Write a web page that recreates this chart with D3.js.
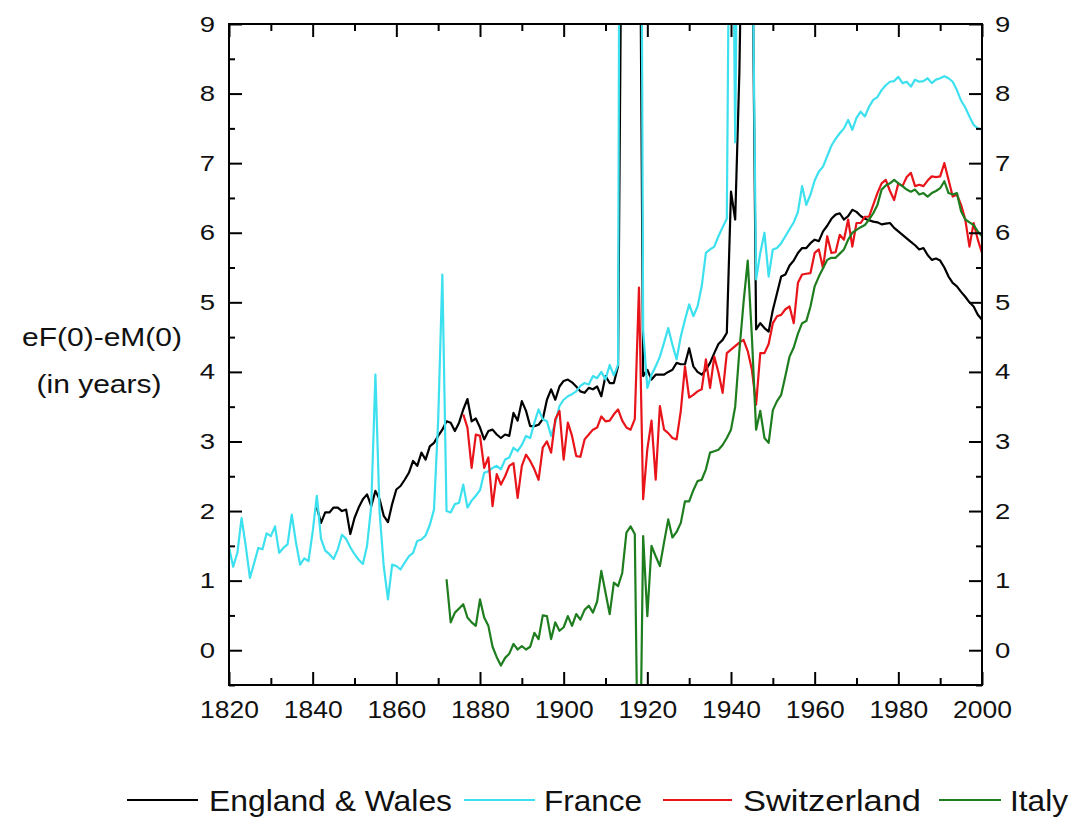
<!DOCTYPE html>
<html>
<head>
<meta charset="utf-8">
<title>eF(0)-eM(0)</title>
<script src="https://d3js.org/d3.v7.min.js"></script>
<style>
  body { margin: 0; background: #fff; }
  svg { font-family: Arial, "Liberation Sans", sans-serif; }
  .axis path { display: none; }
  .axis line { stroke: #000; stroke-width: 2px; }
  .axis text { fill: #111; }
</style>
</head>
<body>
<div id="chart"></div>
<script>
// ---- data (one value per year) ----
var ewStart = 1841;
var ewValues = [2.05, 1.83, 1.98, 1.98, 2.05, 2.05, 2.00, 2.02, 1.67, 1.90,
  2.05, 2.17, 2.24, 2.07, 2.29, 2.17, 1.93, 1.84, 2.10, 2.31,
  2.36, 2.45, 2.55, 2.72, 2.65, 2.84, 2.74, 2.93, 2.98, 3.08,
  3.17, 3.29, 3.27, 3.15, 3.27, 3.46, 3.61, 3.29, 3.33, 3.20,
  3.03, 3.15, 3.17, 3.10, 3.05, 3.10, 3.08, 3.41, 3.30, 3.58,
  3.44, 3.22, 3.22, 3.24, 3.32, 3.60, 3.75, 3.60, 3.79, 3.87,
  3.89, 3.85, 3.79, 3.72, 3.70, 3.77, 3.75, 3.79, 3.65, 3.94,
  3.84, 3.84, 4.08, 12, 14, 14, 14, 13, 3.94, 4.03,
  3.89, 3.96, 3.96, 3.96, 4.00, 4.03, 4.13, 4.11, 4.11, 4.34,
  4.08, 4.00, 3.96, 4.03, 4.13, 4.27, 4.40, 4.46, 4.56, 6.59,
  6.19, 8.3, 12, 12, 11, 4.61, 4.70, 4.63, 4.58, 4.89,
  5.13, 5.37, 5.40, 5.53, 5.60, 5.71, 5.78, 5.78, 5.85, 5.90,
  5.88, 6.02, 6.10, 6.20, 6.26, 6.28, 6.19, 6.24, 6.33, 6.30,
  6.24, 6.20, 6.18, 6.16, 6.15, 6.12, 6.13, 6.14, 6.07, 6.02,
  5.97, 5.92, 5.87, 5.82, 5.76, 5.78, 5.68, 5.61, 5.63, 5.60,
  5.50, 5.37, 5.28, 5.23, 5.15, 5.08, 5.00, 4.94, 4.82, 4.75];

var frStart = 1820;
var frValues = [1.48, 1.20, 1.40, 1.90, 1.50, 1.04, 1.25, 1.47, 1.45, 1.68,
  1.64, 1.78, 1.40, 1.47, 1.52, 1.95, 1.55, 1.23, 1.32, 1.28,
  1.70, 2.22, 1.60, 1.43, 1.38, 1.31, 1.45, 1.66, 1.60, 1.48,
  1.38, 1.30, 1.24, 1.50, 2.07, 3.96, 1.98, 1.20, 0.73, 1.23,
  1.21, 1.16, 1.26, 1.35, 1.40, 1.57, 1.59, 1.65, 1.80, 2.02,
  3.30, 5.40, 2.00, 1.98, 2.10, 2.12, 2.38, 2.05, 2.15, 2.22,
  2.30, 2.55, 2.57, 2.62, 2.65, 2.60, 2.74, 2.77, 2.91, 2.86,
  2.95, 3.08, 3.05, 3.27, 3.46, 3.32, 3.29, 3.08, 3.27, 3.51,
  3.60, 3.65, 3.68, 3.72, 3.80, 3.84, 3.82, 3.94, 3.91, 4.00,
  3.89, 4.10, 3.95, 4.10, 25, 25, 25, 25, 20, 4.60,
  3.77, 3.96, 4.08, 4.22, 4.42, 4.63, 4.39, 4.18, 4.51, 4.75,
  4.97, 4.80, 4.94, 5.23, 5.71, 5.76, 5.80, 5.95, 6.08, 6.20,
  14, 7.30, 14, 14, 14, 11, 5.33, 5.71, 6.00, 5.37,
  5.76, 5.78, 5.85, 5.95, 6.05, 6.15, 6.30, 6.67, 6.40, 6.55,
  6.75, 6.88, 6.95, 7.10, 7.25, 7.35, 7.43, 7.50, 7.62, 7.48,
  7.65, 7.74, 7.67, 7.81, 7.91, 7.95, 8.05, 8.12, 8.17, 8.18,
  8.24, 8.15, 8.17, 8.10, 8.20, 8.17, 8.18, 8.22, 8.15, 8.20,
  8.22, 8.25, 8.22, 8.17, 8.05, 7.90, 7.80, 7.67, 7.55, 7.50,
  7.48];

var chStart = 1876;
var chValues = [3.39, 3.20, 2.62, 3.10, 3.08, 2.62, 2.77, 2.07, 2.53, 2.38,
  2.50, 2.65, 2.69, 2.19, 2.65, 2.81, 2.72, 2.60, 2.45, 2.91,
  3.00, 2.84, 3.32, 3.44, 2.74, 3.27, 3.08, 2.79, 2.78, 3.03,
  3.10, 3.17, 3.20, 3.36, 3.29, 3.30, 3.39, 3.46, 3.30, 3.20,
  3.17, 3.32, 5.21, 2.17, 2.89, 3.30, 2.45, 3.51, 3.17, 3.12,
  3.05, 3.03, 3.44, 4.08, 3.63, 3.67, 3.72, 3.75, 4.18, 3.77,
  4.22, 3.99, 3.70, 4.27, 4.32, 4.37, 4.42, 4.46, 4.30, 4.03,
  3.53, 4.27, 4.27, 4.40, 4.70, 4.80, 4.82, 4.90, 4.94, 4.70,
  5.28, 5.40, 5.41, 5.42, 5.71, 5.76, 5.49, 5.95, 5.71, 5.72,
  5.97, 5.90, 6.19, 5.80, 6.14, 6.14, 6.23, 6.23, 6.40, 6.57,
  6.71, 6.76, 6.60, 6.47, 6.71, 6.67, 6.80, 6.86, 6.67, 6.69,
  6.67, 6.75, 6.81, 6.80, 6.81, 7.00, 6.76, 6.52, 6.55, 6.40,
  6.19, 5.80, 6.14, 5.90, 5.71];

var itStart = 1872;
var itValues = [1.02, 0.40, 0.54, 0.60, 0.66, 0.47, 0.40, 0.35, 0.73, 0.47,
  0.35, 0.05, -0.10, -0.22, -0.11, -0.05, 0.09, 0.01, 0.06, 0.01,
  0.05, 0.25, 0.16, 0.50, 0.49, 0.16, 0.40, 0.28, 0.33, 0.49,
  0.35, 0.52, 0.44, 0.58, 0.64, 0.54, 0.70, 1.14, 0.83, 0.52,
  0.97, 0.92, 1.11, 1.69, 1.78, 1.67, -3.0, 1.64, 0.49, 1.50,
  1.35, 1.21, 1.55, 1.88, 1.62, 1.70, 1.83, 2.14, 2.14, 2.30,
  2.43, 2.45, 2.60, 2.84, 2.86, 2.88, 2.95, 3.05, 3.17, 3.50,
  4.30, 5.00, 5.60, 4.50, 3.17, 3.44, 3.05, 2.98, 3.45, 3.58,
  3.67, 3.94, 4.22, 4.35, 4.55, 4.70, 4.73, 4.94, 5.23, 5.37,
  5.49, 5.61, 5.64, 5.64, 5.70, 5.76, 5.90, 6.00, 6.04, 6.08,
  6.11, 6.19, 6.28, 6.40, 6.62, 6.68, 6.71, 6.76, 6.71, 6.67,
  6.62, 6.59, 6.62, 6.55, 6.57, 6.52, 6.57, 6.60, 6.64, 6.74,
  6.57, 6.55, 6.57, 6.31, 6.19, 6.15, 6.11, 6.02, 5.95];

var seriesNames = ["England & Wales", "France", "Switzerland", "Italy"];
var seriesColors = ["#000000", "#3ce0ee", "#e8141a", "#1e7d1e"];

var xMajorTicks = [1820, 1840, 1860, 1880, 1900, 1920, 1940, 1960, 1980, 2000];
var xMinorTicks = [1830, 1850, 1870, 1890, 1910, 1930, 1950, 1970, 1990];
var yMajorTicks = [0, 1, 2, 3, 4, 5, 6, 7, 8, 9];
var yMinorTicks = [-0.5, 0.5, 1.5, 2.5, 3.5, 4.5, 5.5, 6.5, 7.5, 8.5];

// ---- layout ----
var W = 1072, H = 821;
var plot = { left: 229, right: 982, top: 24, bottom: 685 };

var svg = d3.select("#chart").append("svg")
  .attr("width", W).attr("height", H);
svg.append("rect").attr("width", W).attr("height", H).attr("fill", "#fff");

var x = d3.scaleLinear().domain([1820, 2000]).range([plot.left, plot.right]);
var y = d3.scaleLinear().domain([-0.5, 9]).range([plot.bottom, plot.top]);

function toPoints(start, vals) {
  return vals.map(function (v, i) { return [start + i, v]; });
}
var allSeries = [
  toPoints(ewStart, ewValues),
  toPoints(frStart, frValues),
  toPoints(chStart, chValues),
  toPoints(itStart, itValues)
];

svg.append("clipPath").attr("id", "clip")
  .append("rect")
  .attr("x", plot.left).attr("y", plot.top)
  .attr("width", plot.right - plot.left).attr("height", plot.bottom - plot.top);

var line = d3.line()
  .x(function (d) { return x(d[0]); })
  .y(function (d) { return y(d[1]); });

var lines = svg.append("g").attr("clip-path", "url(#clip)");
allSeries.forEach(function (s, i) {
  lines.append("path")
    .attr("d", line(s))
    .attr("fill", "none")
    .attr("stroke", seriesColors[i])
    .attr("stroke-width", 2.2)
    .attr("stroke-linejoin", "round");
});

// stretch text a bit wider, the figure's digits are wide
function stretch(sel, k) {
  sel.each(function () {
    var w = this.getComputedTextLength();
    d3.select(this).attr("textLength", w * k).attr("lengthAdjust", "spacingAndGlyphs");
  });
}

// axes, ticks pointing inward on all four sides
var gB = svg.append("g").attr("class", "axis")
  .attr("transform", "translate(0," + plot.bottom + ")")
  .call(d3.axisBottom(x).tickValues(xMajorTicks).tickSize(-13).tickPadding(17).tickFormat(d3.format("d")));
gB.append("g").call(d3.axisBottom(x).tickValues(xMinorTicks).tickSize(-7).tickFormat(""));
gB.selectAll("text").attr("font-size", 23);

var gT = svg.append("g").attr("class", "axis")
  .attr("transform", "translate(0," + plot.top + ")")
  .call(d3.axisTop(x).tickValues(xMajorTicks).tickSize(-13).tickFormat(""));
gT.append("g").call(d3.axisTop(x).tickValues(xMinorTicks).tickSize(-7).tickFormat(""));

var gL = svg.append("g").attr("class", "axis")
  .attr("transform", "translate(" + plot.left + ",0)")
  .call(d3.axisLeft(y).tickValues(yMajorTicks).tickSize(-13).tickPadding(14).tickFormat(d3.format("d")));
gL.append("g").call(d3.axisLeft(y).tickValues(yMinorTicks).tickSize(-6).tickFormat(""));
gL.selectAll("text").attr("font-size", 22);

var gR = svg.append("g").attr("class", "axis")
  .attr("transform", "translate(" + plot.right + ",0)")
  .call(d3.axisRight(y).tickValues(yMajorTicks).tickSize(-13).tickPadding(13).tickFormat(d3.format("d")));
gR.append("g").call(d3.axisRight(y).tickValues(yMinorTicks).tickSize(-6).tickFormat(""));
gR.selectAll("text").attr("font-size", 22);

stretch(gB.selectAll("text"), 1.15);
stretch(gL.selectAll("text"), 1.25);
stretch(gR.selectAll("text"), 1.25);

// frame
svg.append("rect")
  .attr("x", plot.left).attr("y", plot.top)
  .attr("width", plot.right - plot.left).attr("height", plot.bottom - plot.top)
  .attr("fill", "none").attr("stroke", "#000").attr("stroke-width", 2);

// y label
var yl = svg.append("g").attr("font-size", 25).attr("fill", "#111").attr("text-anchor", "middle");
yl.append("text").attr("x", 102).attr("y", 346).text("eF(0)-eM(0)");
yl.append("text").attr("x", 99).attr("y", 393).text("(in years)");
stretch(yl.selectAll("text"), 1.2);

// legend
var legendPos = [
  { x1: 127, x2: 198, tx: 209, tw: 243 },
  { x1: 464, x2: 535, tx: 544, tw: 98 },
  { x1: 663, x2: 732, tx: 743, tw: 178 },
  { x1: 939, x2: 1001, tx: 1010, tw: 58 }
];
var lg = svg.append("g");
seriesNames.forEach(function (name, i) {
  var p = legendPos[i];
  lg.append("line")
    .attr("x1", p.x1).attr("x2", p.x2).attr("y1", 800).attr("y2", 800)
    .attr("stroke", seriesColors[i]).attr("stroke-width", 2);
  lg.append("text")
    .attr("x", p.tx).attr("y", 811)
    .attr("font-size", 30).attr("fill", "#111")
    .attr("textLength", p.tw).attr("lengthAdjust", "spacingAndGlyphs")
    .text(name);
});
</script>
</body>
</html>
